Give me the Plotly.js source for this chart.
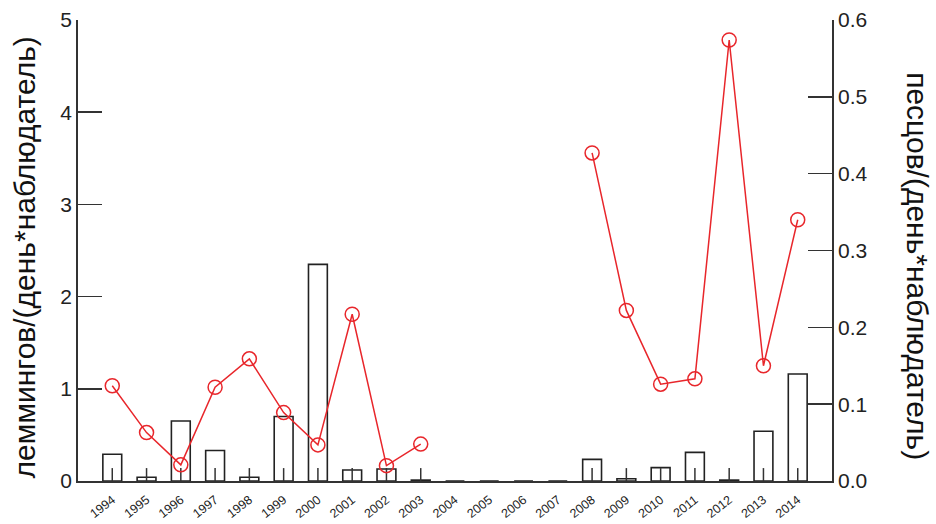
<!DOCTYPE html>
<html>
<head>
<meta charset="utf-8">
<script src="https://cdn.plot.ly/plotly-3.0.1.min.js"></script>
<style>html,body{margin:0;padding:0;background:#fff}#chart{width:936px;height:524px}</style>
</head>
<body>
<div id="chart"></div>
<script>
const years = ["1994","1995","1996","1997","1998","1999","2000","2001","2002","2003","2004","2005","2006","2007","2008","2009","2010","2011","2012","2013","2014"];
const lemmings = [0.29,0.04,0.65,0.33,0.04,0.70,2.35,0.12,0.13,0.01,0,0,0,0,0.235,0.025,0.145,0.31,0.01,0.54,1.16];
const foxes = [0.124,0.063,0.021,0.122,0.159,0.089,0.047,0.217,0.020,0.048,null,null,null,null,0.427,0.222,0.126,0.133,0.574,0.150,0.340];
// years with observations (tick marks drawn only for these)
const observed = [1,1,1,1,1,1,1,1,1,1,0,0,0,0,1,1,1,1,1,1,1];
const leftTitle = "леммингов/(день*наблюдатель)";
const rightTitle = "песцов/(день*наблюдатель)";

const axisColor = "#333";
const tickBase = observed.map(o => o ? 0 : null);
const traces = [
  {
    type: "bar", x: years, y: lemmings, width: 0.55,
    marker: {color: "rgba(0,0,0,0)", line: {color: "#222", width: 1.6}},
    yaxis: "y"
  },
  {
    type: "scatter", mode: "markers", x: years, y: tickBase, yaxis: "y",
    marker: {size: 1, color: "rgba(0,0,0,0)"},
    error_y: {type: "constant", value: 0.14, symmetric: false, valueminus: 0, width: 0, thickness: 1.5, color: axisColor}
  },
  {
    type: "scatter", mode: "lines+markers", x: years, y: foxes, yaxis: "y2",
    connectgaps: false,
    line: {color: "#e8262b", width: 1.5},
    marker: {symbol: "circle-open", size: 14, color: "#e8262b", line: {width: 1.5, color: "#e8262b"}}
  }
];
const layout = {
  width: 936, height: 524,
  margin: {l: 78, r: 104, t: 20, b: 43},
  paper_bgcolor: "#fff", plot_bgcolor: "#fff",
  showlegend: false,
  font: {family: "Liberation Sans, Arial, sans-serif", color: "#222"},
  xaxis: {
    type: "category", range: [-1, 21],
    showline: true, linecolor: axisColor, linewidth: 1.8,
    ticks: "", ticklabelstandoff: 5,
    tickangle: -38, tickfont: {size: 12.5, color: "#222"},
    showgrid: false, zeroline: false
  },
  yaxis: {
    range: [0, 5], dtick: 1, showline: true, linecolor: axisColor, linewidth: 1.8,
    ticks: "inside", ticklen: 24, tickwidth: 1.5, tickcolor: axisColor,
    tickfont: {size: 21, color: "#222"}, showgrid: false, zeroline: false
  },
  yaxis2: {
    range: [0, 0.6], dtick: 0.1, tickformat: ".1f", overlaying: "y", side: "right",
    showline: true, linecolor: axisColor, linewidth: 1.8,
    ticks: "inside", ticklen: 24, tickwidth: 1.5, tickcolor: axisColor,
    tickfont: {size: 21, color: "#222"}, showgrid: false, zeroline: false
  },
  annotations: [
    {text: leftTitle, xref: "paper", yref: "paper", x: 0, y: 0.485, xanchor: "center", yanchor: "middle",
     textangle: -90, showarrow: false, font: {size: 30, color: "#111"}, xshift: -54},
    {text: rightTitle, xref: "paper", yref: "paper", x: 1, y: 0.466, xanchor: "center", yanchor: "middle",
     textangle: 90, showarrow: false, font: {size: 30, color: "#111"}, xshift: 86}
  ]
};
Plotly.newPlot("chart", traces, layout, {displayModeBar: false, staticPlot: true});
</script>
</body>
</html>
